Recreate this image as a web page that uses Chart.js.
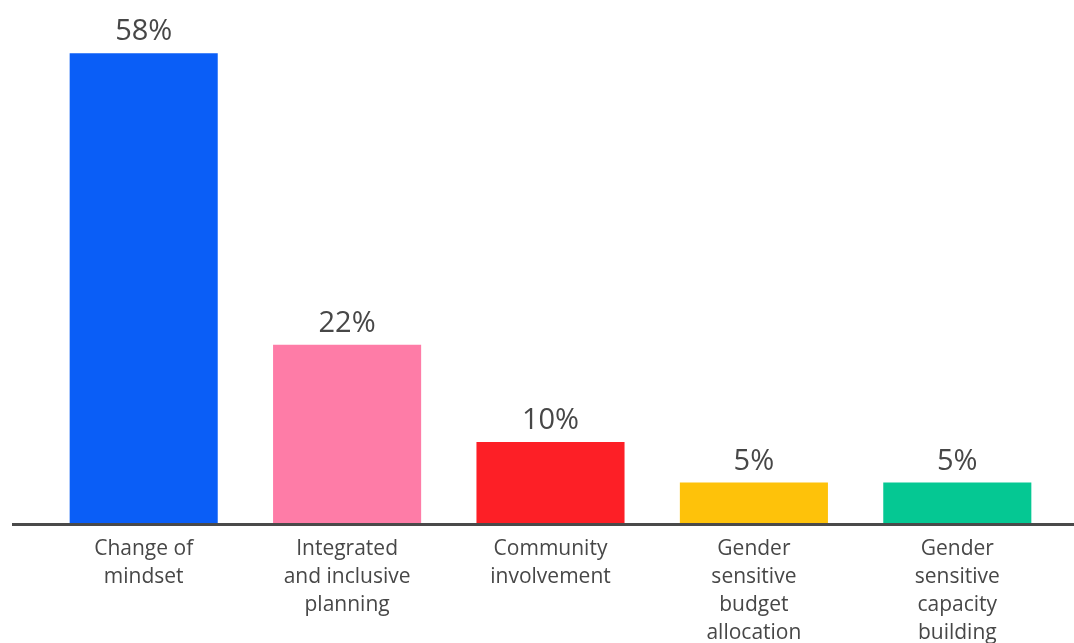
<!DOCTYPE html>
<html>
<head>
<meta charset="utf-8">
<script src="https://cdn.jsdelivr.net/npm/chart.js@4"></script>
<style>
  html, body { margin: 0; padding: 0; background: #fff; }
  #wrap { width: 1074px; height: 643px; position: relative; }
</style>
</head>
<body>
<div id="wrap"><canvas id="chart"></canvas></div>
<script>
const categories = [
    ["Change of", "mindset"],
    ["Integrated", "and inclusive", "planning"],
    ["Community", "involvement"],
    ["Gender", "sensitive", "budget", "allocation"],
    ["Gender", "sensitive", "capacity", "building"]
];
const shares = [58, 22, 10, 5, 5];
const barColors = ["#0a5ef7", "#fe7ca7", "#fd1f26", "#fec20a", "#05c893"];

const textColor = "#474747";
const fontFamily = "'Open Sans', Lato, sans-serif";

// full-width baseline under the bars
const baseline = {
    id: 'baseline',
    afterDatasetsDraw(chart) {
        const ctx = chart.ctx;
        const y = chart.scales.y.getPixelForValue(0);
        ctx.save();
        ctx.strokeStyle = "#4a4a4a";
        ctx.lineWidth = 3;
        ctx.beginPath();
        ctx.moveTo(12, y + 1.5);
        ctx.lineTo(chart.width, y + 1.5);
        ctx.stroke();
        ctx.restore();
    }
};

// percentage labels above each bar
const valueLabels = {
    id: 'valueLabels',
    afterDatasetsDraw(chart) {
        const ctx = chart.ctx;
        const meta = chart.getDatasetMeta(0);
        ctx.save();
        ctx.fillStyle = textColor;
        ctx.font = "29px " + fontFamily;
        ctx.textAlign = "center";
        ctx.textBaseline = "alphabetic";
        meta.data.forEach((bar, i) => {
            ctx.fillText(shares[i] + "%", bar.x, bar.y - 13);
        });
        ctx.restore();
    }
};

new Chart(document.getElementById('chart').getContext('2d'), {
    type: 'bar',
    data: {
        labels: categories,
        datasets: [{
            data: shares,
            backgroundColor: barColors,
            borderWidth: 0,
            categoryPercentage: 1,
            barPercentage: 0.728
        }]
    },
    options: {
        responsive: true,
        maintainAspectRatio: false,
        animation: false,
        layout: { padding: { left: 42, right: 15, top: 37, bottom: 0 } },
        plugins: {
            legend: { display: false },
            tooltip: { enabled: false }
        },
        scales: {
            y: {
                display: false,
                min: 0,
                max: 60
            },
            x: {
                grid: { display: false, drawTicks: false },
                border: { display: false },
                afterFit(scale) { scale.height = 120; },
                ticks: {
                    color: textColor,
                    padding: 12,
                    maxRotation: 0,
                    autoSkip: false,
                    font: { family: fontFamily, size: 21, lineHeight: '28px' }
                }
            }
        }
    },
    plugins: [baseline, valueLabels]
});
</script>
</body>
</html>
